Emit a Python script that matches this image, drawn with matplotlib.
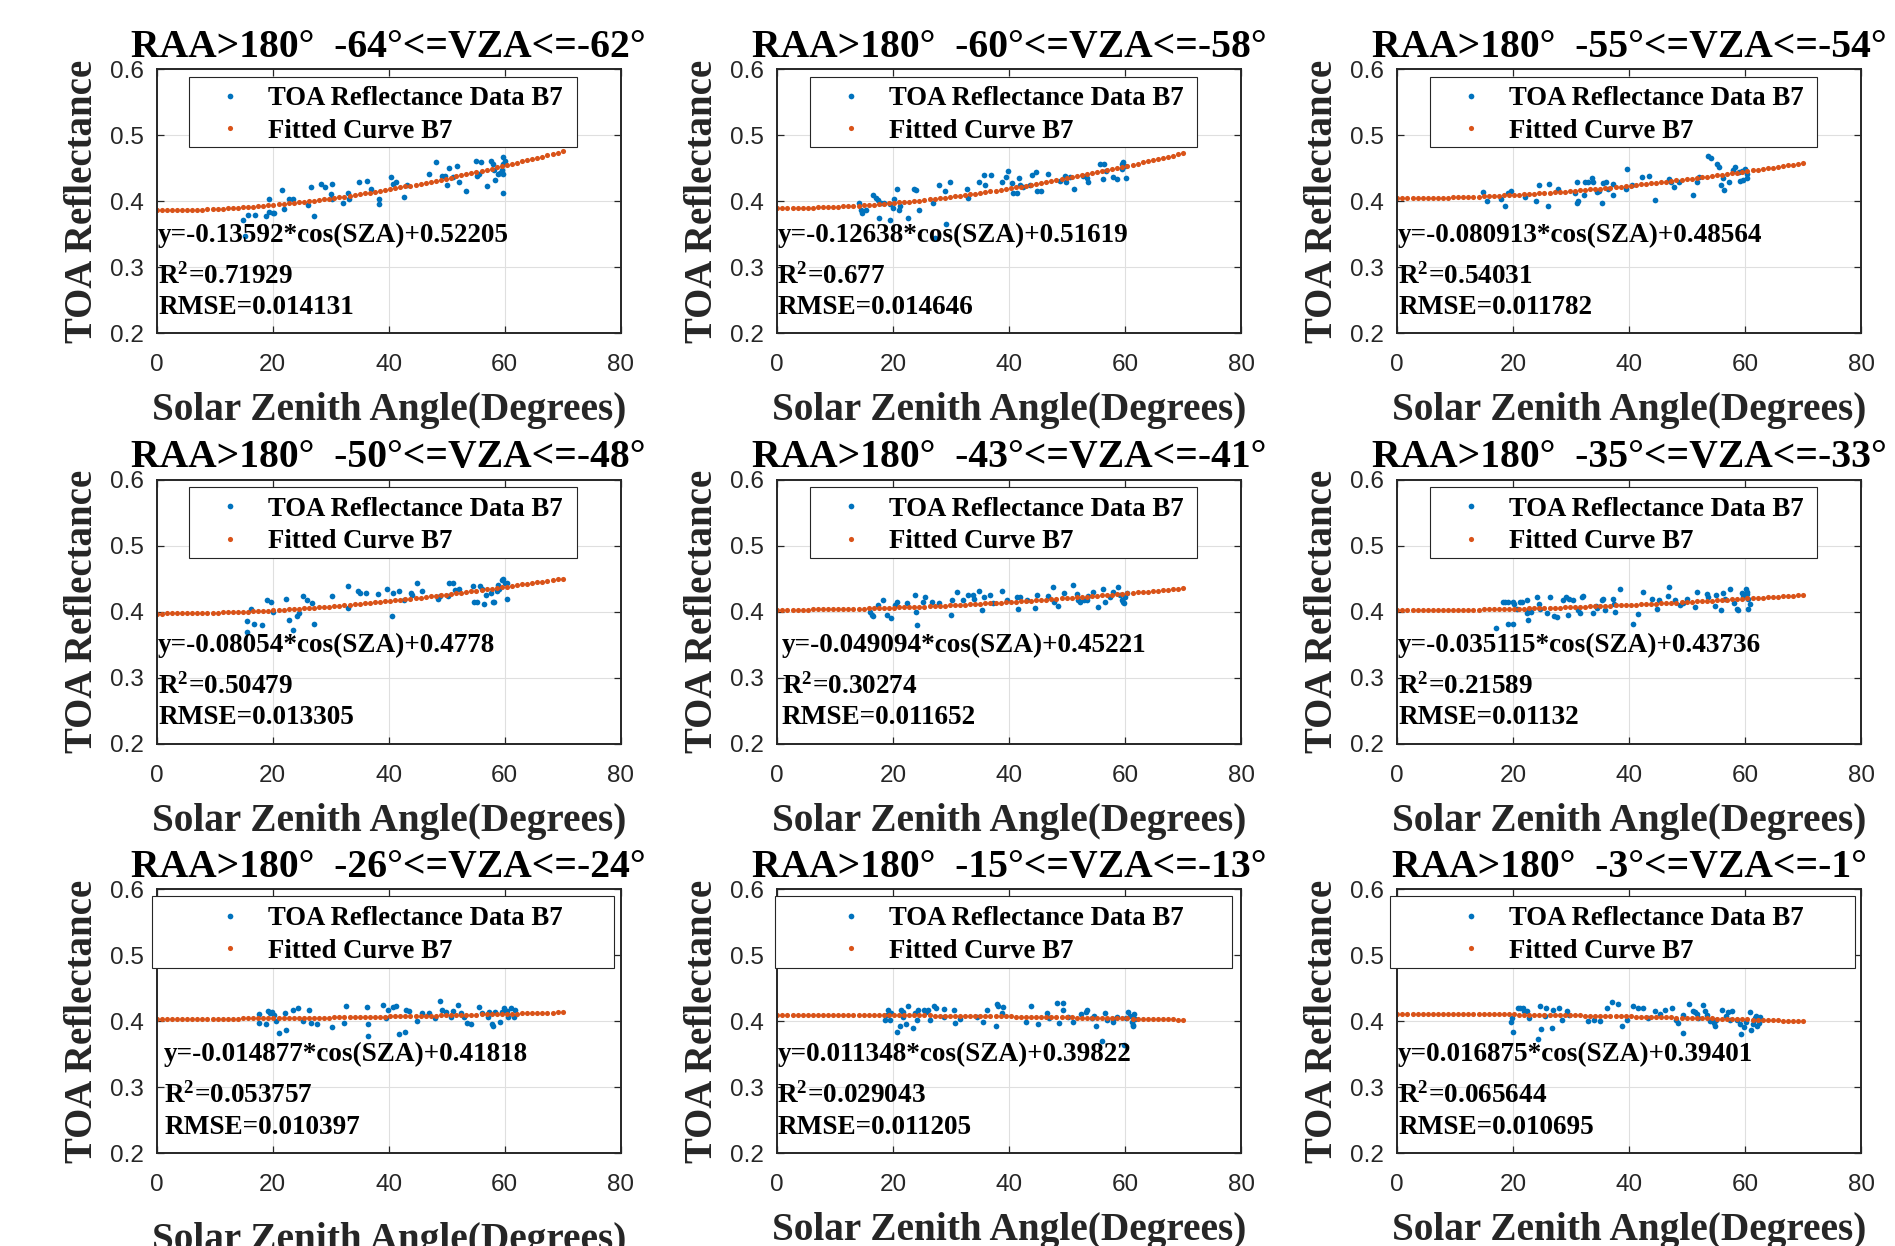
import numpy as np
import matplotlib
matplotlib.use("Agg")
import matplotlib.pyplot as plt
from matplotlib.patches import Rectangle

plt.rcParams['mathtext.fontset'] = 'custom'
plt.rcParams['mathtext.rm'] = 'Liberation Serif:bold'
plt.rcParams['mathtext.it'] = 'Liberation Serif:italic:bold'
plt.rcParams['mathtext.bf'] = 'Liberation Serif:bold'

# ---------------- data ----------------
VZA_LO = [-64, -60, -55, -50, -43, -35, -26, -15, -3]
VZA_HI = [-62, -58, -54, -48, -41, -33, -24, -13, -1]
COEF_A = ["-0.13592", "-0.12638", "-0.080913", "-0.08054", "-0.049094",
          "-0.035115", "-0.014877", "0.011348", "0.016875"]
COEF_B = ["0.52205", "0.51619", "0.48564", "0.4778", "0.45221",
          "0.43736", "0.41818", "0.39822", "0.39401"]
R2 = ["0.71929", "0.677", "0.54031", "0.50479", "0.30274",
      "0.21589", "0.053757", "0.029043", "0.065644"]
RMSE = ["0.014131", "0.014646", "0.011782", "0.013305", "0.011652",
        "0.01132", "0.010397", "0.011205", "0.010695"]
FIT_SZA_RANGE = (0, 70)
FIT_SZA_COUNT = 81

SZA_P1 = [14.83, 15.23, 15.80, 16.95, 18.85, 19.42, 19.42, 20.00, 20.23, 21.55,
          21.95, 22.87, 23.56, 26.15, 26.55, 27.12, 28.27, 29.02, 30.17, 30.00,
          30.23, 32.18, 33.04, 33.16, 34.94, 36.32, 36.89, 38.39, 38.39, 40.34,
          40.80, 41.26, 42.64, 43.10, 47.01, 48.16, 49.14, 49.71, 50.11, 50.46,
          51.03, 51.84, 52.18, 53.33, 55.06, 55.29, 55.86, 55.63, 57.01, 57.58,
          57.93, 58.16, 58.33, 58.91, 59.48, 59.65, 59.77, 59.77, 60.06, 59.65,
          59.20]
TOA_P1 = [0.371, 0.347, 0.379, 0.379, 0.378, 0.404, 0.384, 0.382, 0.382, 0.417,
          0.389, 0.403, 0.404, 0.394, 0.421, 0.377, 0.426, 0.422, 0.426, 0.411,
          0.404, 0.397, 0.412, 0.403, 0.429, 0.431, 0.418, 0.404, 0.396, 0.437,
          0.426, 0.429, 0.406, 0.424, 0.441, 0.459, 0.439, 0.438, 0.424, 0.451,
          0.437, 0.453, 0.429, 0.416, 0.461, 0.438, 0.459, 0.442, 0.423, 0.461,
          0.457, 0.447, 0.433, 0.441, 0.448, 0.413, 0.467, 0.441, 0.461, 0.457,
          0.443]

SZA_P2 = [14.14, 14.54, 14.37, 15.29, 16.56, 16.96, 17.42, 17.82, 18.39, 17.59,
          19.43, 19.43, 19.89, 20.12, 20.69, 21.04, 21.15, 22.59, 23.57, 23.85,
          24.43, 26.90, 27.93, 28.91, 29.08, 29.77, 27.19, 32.65, 32.93, 34.83,
          35.64, 35.81, 36.79, 38.68, 39.43, 39.83, 40.41, 40.58, 41.27, 41.73,
          41.84, 42.42, 43.57, 43.85, 44.60, 44.72, 45.41, 46.73, 48.74, 49.60,
          49.77, 50.46, 51.15, 52.76, 53.34, 53.62, 55.64, 56.10, 56.33, 56.67,
          57.93, 58.63, 59.37, 59.66, 59.95, 60.12, 59.37]
TOA_P2 = [0.397, 0.382, 0.387, 0.387, 0.409, 0.405, 0.402, 0.397, 0.398, 0.375,
          0.372, 0.396, 0.390, 0.404, 0.419, 0.387, 0.393, 0.375, 0.419, 0.417,
          0.387, 0.397, 0.425, 0.416, 0.365, 0.429, 0.345, 0.419, 0.405, 0.429,
          0.440, 0.424, 0.440, 0.430, 0.437, 0.446, 0.427, 0.412, 0.412, 0.436,
          0.424, 0.422, 0.424, 0.440, 0.444, 0.415, 0.415, 0.442, 0.431, 0.439,
          0.429, 0.437, 0.419, 0.439, 0.435, 0.429, 0.456, 0.434, 0.456, 0.446,
          0.437, 0.434, 0.456, 0.459, 0.454, 0.436, 0.449]

SZA_P3 = [14.83, 15.52, 17.82, 18.57, 19.14, 19.54, 22.02, 23.91, 24.43, 26.04,
          26.21, 27.76, 30.64, 30.92, 31.04, 31.21, 32.19, 32.36, 32.93, 33.51,
          33.68, 34.49, 34.83, 35.23, 35.41, 35.98, 36.38, 37.13, 37.24, 39.54,
          39.43, 40.41, 42.13, 43.45, 44.43, 46.90, 47.13, 47.71, 48.62, 51.04,
          51.61, 52.07, 53.62, 54.03, 55.06, 55.52, 55.75, 56.21, 56.33, 57.24,
          57.82, 58.22, 58.97, 59.08, 59.66, 59.95, 60.23, 60.35, 59.43]
TOA_P3 = [0.414, 0.400, 0.404, 0.393, 0.412, 0.416, 0.406, 0.401, 0.424, 0.393,
          0.426, 0.419, 0.412, 0.398, 0.429, 0.401, 0.410, 0.429, 0.429, 0.436,
          0.429, 0.414, 0.416, 0.398, 0.427, 0.430, 0.419, 0.426, 0.410, 0.449,
          0.419, 0.424, 0.437, 0.439, 0.402, 0.434, 0.430, 0.421, 0.430, 0.410,
          0.430, 0.437, 0.469, 0.465, 0.456, 0.452, 0.424, 0.436, 0.417, 0.430,
          0.447, 0.452, 0.444, 0.431, 0.432, 0.449, 0.441, 0.436, 0.446]

SZA_P4 = [15.52, 15.52, 16.21, 16.78, 18.10, 18.96, 19.65, 20.00, 22.30, 22.87,
          23.56, 24.25, 24.54, 25.29, 25.86, 26.72, 27.13, 30.17, 33.05, 33.05,
          34.77, 35.06, 36.09, 38.22, 39.77, 40.52, 40.80, 41.84, 42.64, 43.79,
          43.96, 44.94, 45.69, 48.56, 48.85, 50.46, 51.15, 50.29, 51.44, 52.18,
          54.60, 54.71, 55.17, 55.75, 56.03, 56.44, 56.78, 57.59, 57.93, 58.16,
          58.62, 58.91, 59.48, 59.77, 60.06, 60.34, 60.46, 59.08]
TOA_P4 = [0.386, 0.370, 0.404, 0.382, 0.380, 0.417, 0.414, 0.400, 0.420, 0.387,
          0.372, 0.393, 0.398, 0.424, 0.418, 0.413, 0.381, 0.424, 0.439, 0.405,
          0.432, 0.429, 0.429, 0.427, 0.435, 0.393, 0.429, 0.432, 0.417, 0.429,
          0.425, 0.444, 0.432, 0.419, 0.424, 0.443, 0.443, 0.424, 0.433, 0.434,
          0.439, 0.414, 0.414, 0.439, 0.434, 0.412, 0.425, 0.429, 0.414, 0.414,
          0.432, 0.440, 0.448, 0.450, 0.443, 0.444, 0.420, 0.435]

SZA_P5 = [15.98, 16.27, 16.56, 17.42, 18.28, 18.85, 19.54, 20.29, 20.69, 22.42,
          23.74, 23.91, 24.14, 25.18, 25.46, 26.61, 27.93, 29.89, 30.06, 30.92,
          31.96, 32.93, 33.68, 33.91, 34.83, 35.23, 35.64, 36.67, 37.13, 38.68,
          39.66, 41.27, 41.56, 41.84, 43.11, 44.43, 44.72, 46.73, 47.59, 47.71,
          48.45, 49.43, 50.92, 51.61, 51.90, 52.19, 52.88, 53.34, 53.62, 54.49,
          55.35, 56.10, 56.50, 57.36, 57.93, 58.80, 59.08, 59.37, 59.66, 59.95,
          60.23, 59.77]
TOA_P5 = [0.400, 0.395, 0.393, 0.410, 0.418, 0.395, 0.390, 0.410, 0.414, 0.413,
          0.425, 0.400, 0.380, 0.415, 0.423, 0.414, 0.413, 0.395, 0.418, 0.430,
          0.417, 0.425, 0.425, 0.420, 0.432, 0.402, 0.422, 0.425, 0.413, 0.432,
          0.417, 0.423, 0.404, 0.423, 0.418, 0.405, 0.425, 0.424, 0.438, 0.415,
          0.409, 0.428, 0.440, 0.427, 0.418, 0.415, 0.417, 0.418, 0.424, 0.430,
          0.407, 0.435, 0.415, 0.423, 0.430, 0.438, 0.425, 0.418, 0.415, 0.423,
          0.429, 0.413]

SZA_P6 = [17.01, 18.16, 18.57, 19.14, 19.14, 20.00, 20.00, 20.12, 20.69, 21.15,
          21.44, 22.30, 22.42, 22.59, 22.76, 22.99, 24.14, 24.49, 24.60, 25.75,
          26.33, 27.02, 27.47, 28.51, 29.08, 29.49, 29.66, 30.23, 31.21, 31.50,
          31.79, 31.96, 33.68, 34.26, 34.37, 35.23, 35.52, 35.81, 37.24, 37.53,
          37.36, 38.39, 40.58, 41.56, 42.30, 43.85, 44.72, 45.18, 46.90, 46.73,
          47.88, 48.74, 49.20, 49.89, 51.33, 51.61, 53.34, 53.62, 54.77, 54.95,
          55.75, 56.21, 56.50, 57.36, 58.05, 58.51, 58.80, 59.37, 59.66, 60.12,
          60.23, 60.52, 60.81, 60.52, 60.35]
TOA_P6 = [0.375, 0.414, 0.414, 0.414, 0.381, 0.381, 0.415, 0.412, 0.404, 0.414,
          0.414, 0.417, 0.398, 0.387, 0.402, 0.400, 0.423, 0.412, 0.404, 0.398,
          0.422, 0.393, 0.392, 0.417, 0.422, 0.395, 0.420, 0.418, 0.403, 0.398,
          0.423, 0.424, 0.398, 0.408, 0.405, 0.417, 0.419, 0.402, 0.420, 0.400,
          0.412, 0.435, 0.381, 0.396, 0.430, 0.420, 0.404, 0.418, 0.437, 0.424,
          0.418, 0.410, 0.413, 0.420, 0.407, 0.430, 0.427, 0.422, 0.408, 0.425,
          0.402, 0.429, 0.420, 0.434, 0.413, 0.404, 0.403, 0.428, 0.422, 0.435,
          0.430, 0.420, 0.412, 0.404, 0.427]

SZA_P7 = [17.69, 17.69, 18.77, 19.12, 19.48, 19.84, 20.20, 20.55, 21.06, 22.20,
          22.34, 23.42, 24.35, 25.21, 26.28, 26.64, 27.71, 30.21, 32.22, 32.72,
          36.29, 36.51, 36.51, 38.94, 39.51, 39.87, 40.80, 41.30, 41.80, 42.73,
          42.95, 43.45, 44.88, 45.81, 47.02, 47.95, 48.81, 49.17, 49.89, 50.82,
          51.10, 52.03, 52.39, 52.96, 53.46, 54.18, 55.61, 56.11, 57.04, 57.25,
          57.76, 57.97, 58.26, 59.19, 59.54, 59.90, 60.40, 60.62, 61.12, 61.55,
          61.69]
TOA_P7 = [0.411, 0.397, 0.395, 0.415, 0.412, 0.414, 0.409, 0.400, 0.382, 0.412,
          0.387, 0.417, 0.420, 0.400, 0.417, 0.397, 0.396, 0.391, 0.397, 0.422,
          0.421, 0.396, 0.377, 0.424, 0.404, 0.416, 0.421, 0.422, 0.381, 0.383,
          0.417, 0.415, 0.400, 0.412, 0.412, 0.404, 0.431, 0.416, 0.414, 0.406,
          0.415, 0.424, 0.412, 0.406, 0.397, 0.396, 0.421, 0.412, 0.406, 0.414,
          0.396, 0.393, 0.414, 0.398, 0.414, 0.419, 0.415, 0.406, 0.419, 0.406,
          0.417]

SZA_P8 = [18.57, 18.85, 19.14, 19.43, 19.54, 20.58, 21.15, 21.27, 21.61, 21.73,
          22.19, 22.59, 23.34, 23.74, 24.03, 24.31, 25.29, 25.64, 26.04, 26.33,
          27.02, 27.36, 28.74, 28.74, 30.46, 30.64, 31.50, 34.37, 35.52, 36.21,
          37.70, 37.82, 38.11, 38.68, 38.97, 42.88, 43.68, 45.00, 46.44, 46.90,
          48.16, 48.62, 49.20, 49.31, 50.18, 50.92, 52.30, 53.22, 53.45, 54.20,
          54.95, 54.60, 55.92, 56.50, 56.79, 57.82, 57.93, 58.51, 59.77, 60.12,
          60.52, 60.81, 61.10, 61.27, 61.50, 61.67, 61.38]
TOA_P8 = [0.401, 0.409, 0.416, 0.401, 0.412, 0.384, 0.393, 0.416, 0.413, 0.406,
          0.395, 0.423, 0.390, 0.412, 0.401, 0.417, 0.416, 0.414, 0.416, 0.401,
          0.423, 0.419, 0.418, 0.406, 0.417, 0.397, 0.403, 0.406, 0.399, 0.417,
          0.393, 0.426, 0.423, 0.412, 0.421, 0.399, 0.422, 0.395, 0.412, 0.404,
          0.427, 0.397, 0.427, 0.416, 0.406, 0.398, 0.411, 0.414, 0.417, 0.404,
          0.392, 0.407, 0.369, 0.412, 0.401, 0.398, 0.403, 0.406, 0.363, 0.404,
          0.413, 0.407, 0.398, 0.394, 0.411, 0.403, 0.393]

SZA_P9 = [19.67, 19.93, 19.80, 20.79, 21.11, 21.64, 21.90, 22.30, 22.75, 24.26,
          24.72, 24.52, 25.38, 25.57, 26.69, 26.89, 27.80, 28.33, 29.31, 29.64,
          32.92, 33.90, 34.89, 36.07, 36.98, 38.03, 38.82, 39.61, 40.66, 41.44,
          42.43, 43.28, 44.39, 45.25, 46.16, 47.34, 48.13, 48.33, 49.31, 49.31,
          50.30, 50.95, 51.28, 51.61, 51.93, 52.72, 53.11, 53.38, 53.90, 54.23,
          54.56, 54.69, 54.89, 56.00, 56.66, 57.05, 57.31, 57.70, 58.62, 59.15,
          59.28, 59.80, 60.13, 60.79, 60.98, 61.25, 61.64, 61.77, 62.10, 62.43,
          62.56, 61.44]
TOA_P9 = [0.398, 0.383, 0.404, 0.419, 0.420, 0.419, 0.415, 0.415, 0.404, 0.373,
          0.388, 0.422, 0.407, 0.420, 0.390, 0.416, 0.420, 0.401, 0.415, 0.409,
          0.400, 0.402, 0.400, 0.419, 0.429, 0.426, 0.393, 0.402, 0.422, 0.420,
          0.419, 0.404, 0.415, 0.410, 0.417, 0.420, 0.401, 0.397, 0.382, 0.409,
          0.426, 0.415, 0.414, 0.411, 0.404, 0.425, 0.415, 0.409, 0.400, 0.401,
          0.397, 0.393, 0.401, 0.417, 0.407, 0.414, 0.402, 0.415, 0.401, 0.396,
          0.380, 0.391, 0.398, 0.414, 0.387, 0.396, 0.404, 0.407, 0.392, 0.397,
          0.406, 0.401]

SZA_DATA = [SZA_P1, SZA_P2, SZA_P3, SZA_P4, SZA_P5, SZA_P6, SZA_P7, SZA_P8, SZA_P9]
TOA_DATA = [TOA_P1, TOA_P2, TOA_P3, TOA_P4, TOA_P5, TOA_P6, TOA_P7, TOA_P8, TOA_P9]

X_TICKS = [0, 20, 40, 60, 80]
Y_TICKS = [0.2, 0.3, 0.4, 0.5, 0.6]

# ---------------- layout / style ----------------
W_PX, H_PX = 1895, 1246
COL_LEFT = [156.7, 777.3, 1397.3]
ROW_TOP = [69.3, 479.7, 889.0]
AX_W, AX_H = 464.0, 264.0
# legend box (axes fraction): x0, x1, y0, y1
LEG_BOX = [(0.070, 0.905, 0.705, 0.972)] * 6 + [
    (-0.0095, 0.985, 0.700, 0.975), (-0.006, 0.981, 0.700, 0.975),
    (-0.016, 0.986, 0.700, 0.975)]
TXT_X = [0.003, 0.0, 0.002, 0.003, 0.010, 0.002, 0.016, 0.0, 0.002]
XLAB_Y = [-0.2235] * 6 + [-0.261, -0.2235, -0.2235]

BLUE = '#0072BD'
ORANGE = '#D95319'
DARK = '#262626'
SERIF = 'Liberation Serif'
SANS = 'Liberation Sans'

fig = plt.figure(figsize=(W_PX / 100, H_PX / 100), dpi=100)
fit_x = np.linspace(FIT_SZA_RANGE[0], FIT_SZA_RANGE[1], FIT_SZA_COUNT)

for i in range(9):
    r, c = divmod(i, 3)
    left = COL_LEFT[c] / W_PX
    bottom = 1 - (ROW_TOP[r] + AX_H) / H_PX
    ax = fig.add_axes([left, bottom, AX_W / W_PX, AX_H / H_PX])

    a = float(COEF_A[i]); b = float(COEF_B[i])
    ax.plot(SZA_DATA[i], TOA_DATA[i], linestyle='none', marker='o',
            markersize=4.1, markeredgewidth=0, color=BLUE,
            label='TOA Reflectance Data B7', zorder=2)
    ax.plot(fit_x, a * np.cos(np.deg2rad(fit_x)) + b, linestyle='none',
            marker='o', markersize=3.7, markeredgewidth=0, color=ORANGE,
            label='Fitted Curve B7', zorder=2.5)

    ax.set_xlim(0, 80)
    ax.set_ylim(0.2, 0.6)
    ax.set_xticks(X_TICKS)
    ax.set_yticks(Y_TICKS)
    ax.grid(True, color='#dfdfdf', linewidth=0.8)
    ax.set_axisbelow(True)
    for s in ax.spines.values():
        s.set_color(DARK)
        s.set_linewidth(1.4)
    ax.tick_params(direction='in', length=5, width=0.9, top=True, right=True,
                   color=DARK, labelcolor=DARK, labelsize=17.5)
    ax.tick_params(axis='x', pad=15.0)
    ax.tick_params(axis='y', pad=9.5)
    for lab in ax.get_xticklabels() + ax.get_yticklabels():
        lab.set_fontfamily(SANS)

    ax.set_title(f'RAA>180°  {VZA_LO[i]}°<=VZA<={VZA_HI[i]}°',
                 fontfamily=SERIF, fontweight='bold', fontsize=28.5, pad=9,
                 color='black')
    ax.set_xlabel('Solar Zenith Angle(Degrees)', fontfamily=SERIF,
                  fontweight='bold', fontsize=28.3, color=DARK)
    ax.set_ylabel('TOA Reflectance', fontfamily=SERIF, fontweight='bold',
                  fontsize=28, color=DARK)
    ax.xaxis.set_label_coords(0.5, XLAB_Y[i])
    ax.yaxis.set_label_coords(-0.121, 0.5)

    x0, x1, y0, y1 = LEG_BOX[i]
    ax.add_patch(Rectangle((x0, y0), x1 - x0, y1 - y0, transform=ax.transAxes,
                           facecolor='white', edgecolor=DARK, linewidth=0.8,
                           zorder=3, clip_on=False))
    leg = ax.legend(loc='upper left', bbox_to_anchor=(0.1295, 0.936),
                    frameon=False, borderpad=0, borderaxespad=0,
                    handlelength=1.0, handletextpad=0.92, labelspacing=0.285,
                    numpoints=1,
                    prop={'family': SERIF, 'weight': 'bold', 'size': 19.3})
    leg.set_zorder(4)

    tx = TXT_X[i]
    kw = dict(transform=ax.transAxes, fontfamily=SERIF, fontweight='bold',
              fontsize=19.6, color='black', ha='left', va='baseline', zorder=5)
    ax.text(tx, 0.347, f'y={COEF_A[i]}*cos(SZA)+{COEF_B[i]}', **kw)
    ax.text(tx, 0.190, f'R$^{{2}}$={R2[i]}', **kw)
    ax.text(tx, 0.073, f'RMSE={RMSE[i]}', **kw)

fig.savefig('out.png', dpi=100)
